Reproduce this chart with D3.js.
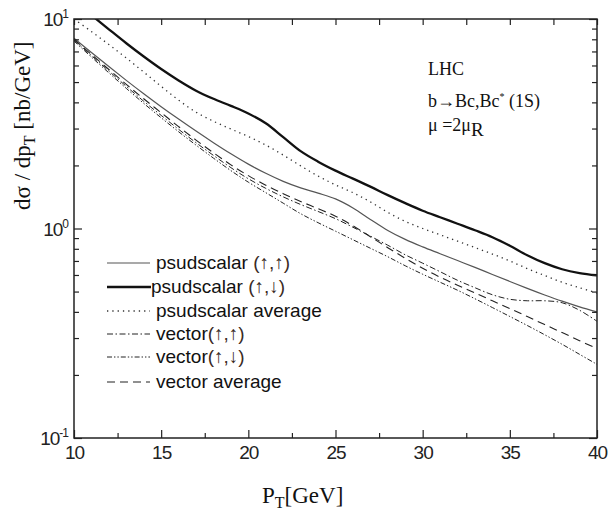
<!DOCTYPE html>
<html>
<head>
<meta charset="utf-8">
<script src="https://cdn.jsdelivr.net/npm/d3@7/dist/d3.min.js"></script>
<style>
  html, body { margin: 0; padding: 0; background: #fff; }
  svg { display: block; }
</style>
</head>
<body>
<svg id="chart" width="614" height="510"></svg>
<script>
// ---------------- data ----------------
const pT = [10,11,12,13,14,15,16,17,18,19,20,21,22,23,24,25,26,27,28,29,30,31,32,33,34,35,36,37,38,39,40];

const psUpUp = [8.09,6.92,5.93,5.095,4.397,3.815,3.329,2.917,2.568,2.273,2.029,1.834,1.679,1.563,1.476,1.385,1.254,1.105,0.979,0.887,0.817,0.758,0.703,0.652,0.6034,0.5589,0.518,0.4817,0.4498,0.4225,0.3996];
const psUpDown = [12.19,10.43,8.93,7.66,6.62,5.77,5.09,4.55,4.16,3.85,3.54,3.18,2.73,2.34,2.085,1.889,1.73,1.584,1.443,1.321,1.216,1.132,1.054,0.981,0.909,0.828,0.7455,0.683,0.639,0.613,0.598];
const psAverage = [10.0,8.71,7.55,6.51,5.58,4.77,4.10,3.59,3.25,2.985,2.749,2.503,2.242,1.991,1.780,1.615,1.483,1.340,1.194,1.081,1.0,0.933,0.870,0.811,0.7552,0.6995,0.644,0.5963,0.5538,0.5214,0.4918];
const vecUpUp = [7.94,6.69,5.644,4.77,4.05,3.467,2.975,2.568,2.233,1.952,1.728,1.555,1.416,1.302,1.206,1.114,1.014,0.919,0.832,0.749,0.683,0.622,0.566,0.5215,0.4828,0.4594,0.4519,0.4519,0.4421,0.4071,0.3607];
const vecUpDown = [7.85,6.58,5.534,4.665,3.956,3.377,2.897,2.50,2.167,1.889,1.664,1.483,1.321,1.177,1.066,0.971,0.884,0.805,0.733,0.664,0.605,0.554,0.5074,0.462,0.4194,0.3802,0.3444,0.311,0.280,0.2508,0.2247];
const vecAverage = [7.98,6.77,5.74,4.876,4.161,3.571,3.064,2.642,2.299,2.013,1.788,1.61,1.467,1.346,1.243,1.145,1.031,0.914,0.810,0.721,0.646,0.5853,0.536,0.4924,0.4519,0.4148,0.3799,0.3477,0.3185,0.2916,0.2671];

const xTickValues = [10,15,20,25,30,35,40];
const xMinorTicks = [12.5,17.5,22.5,27.5,32.5,37.5];
const yDecades = [0.1, 1, 10];
const yDecadeExp = ["-1", "0", "1"];
const yMinorTicks = [0.2,0.3,0.4,0.5,0.6,0.7,0.8,0.9,2,3,4,5,6,7,8,9];

const seriesNames = ["psudscalar", "psudscalar", "psudscalar average", "vector", "vector", "vector average"];
const seriesSuffix = [" (\u2191,\u2191)", " (\u2191,\u2193)", "", "(\u2191,\u2191)", "(\u2191,\u2193)", ""];
const seriesValues = [psUpUp, psUpDown, psAverage, vecUpUp, vecUpDown, vecAverage];

// styles (kept separate from data)
const styles = [
  {stroke: "#555", width: 1.2, dash: null},
  {stroke: "#111", width: 2.3, dash: null},
  {stroke: "#333", width: 1.3, dash: "1.3,4"},
  {stroke: "#222", width: 1.0, dash: "6,2.5,1.5,2.5"},
  {stroke: "#222", width: 1.0, dash: "5,2,1.4,2,1.4,2"},
  {stroke: "#222", width: 1.1, dash: "8,5"}
];

// ---------------- layout ----------------
const svg = d3.select("#chart");
const L = 74, R = 597, T = 19, B = 438;

const x = d3.scaleLinear().domain([10, 40]).range([L, R]);
const y = d3.scaleLog().domain([0.1, 10]).range([B, T]);

const sans = "'Liberation Sans', Arial, sans-serif";
const serif = "'Liberation Serif', 'Times New Roman', serif";

svg.append("defs").append("clipPath").attr("id", "plotclip")
  .append("rect").attr("x", L).attr("y", T).attr("width", R - L).attr("height", B - T);

// curves
const line = d3.line()
  .x((d, i) => x(pT[i]))
  .y(d => y(d))
  .curve(d3.curveCatmullRom.alpha(0.5));

const gCurves = svg.append("g").attr("clip-path", "url(#plotclip)");
seriesValues.forEach((vals, k) => {
  const st = styles[k];
  gCurves.append("path")
    .attr("d", line(vals))
    .attr("fill", "none")
    .attr("stroke", st.stroke)
    .attr("stroke-width", st.width)
    .attr("stroke-dasharray", st.dash)
    .attr("stroke-linejoin", "round");
});

// axes
const axColor = "#222";
function styleAxis(g) {
  g.select(".domain").remove();
  g.selectAll("line").attr("stroke", axColor).attr("stroke-width", 1.2);
}
svg.append("g").attr("transform", `translate(0,${B})`)
  .call(d3.axisBottom(x).tickValues(xTickValues).tickSize(-8).tickPadding(8).tickFormat(d3.format("d")))
  .call(styleAxis)
  .call(g => g.selectAll("text").attr("font-family", sans).attr("font-size", 19)
    .attr("letter-spacing", -1).attr("fill", "#222"));
svg.append("g").attr("transform", `translate(0,${B})`)
  .call(d3.axisBottom(x).tickValues(xMinorTicks).tickSize(-5).tickFormat(""))
  .call(styleAxis);
svg.append("g").attr("transform", `translate(0,${T})`)
  .call(d3.axisTop(x).tickValues(xTickValues.concat(xMinorTicks)).tickSize(-6).tickFormat(""))
  .call(styleAxis);
svg.append("g").attr("transform", `translate(${L},0)`)
  .call(d3.axisLeft(y).tickValues(yDecades).tickSize(-8).tickFormat(""))
  .call(styleAxis);
svg.append("g").attr("transform", `translate(${L},0)`)
  .call(d3.axisLeft(y).tickValues(yMinorTicks).tickSize(-5).tickFormat(""))
  .call(styleAxis);
svg.append("g").attr("transform", `translate(${R},0)`)
  .call(d3.axisRight(y).tickValues(yDecades).tickSize(-8).tickFormat(""))
  .call(styleAxis);
svg.append("g").attr("transform", `translate(${R},0)`)
  .call(d3.axisRight(y).tickValues(yMinorTicks).tickSize(-5).tickFormat(""))
  .call(styleAxis);

// frame
svg.append("rect").attr("x", L).attr("y", T).attr("width", R - L).attr("height", B - T)
  .attr("fill", "none").attr("stroke", axColor).attr("stroke-width", 1.5);

// y decade labels 10^n
yDecades.forEach((v, i) => {
  const t = svg.append("text")
    .attr("x", L - 6).attr("y", y(v) + 7)
    .attr("text-anchor", "end")
    .attr("font-family", sans).attr("font-size", 19).attr("letter-spacing", -1).attr("fill", "#222");
  t.append("tspan").text("10");
  t.append("tspan").attr("font-size", 12).attr("dy", -8).text(yDecadeExp[i]);
});

// axis titles
const xt = svg.append("text").attr("x", 262).attr("y", 503)
  .attr("font-family", serif).attr("font-size", 23).attr("fill", "#111");
xt.append("tspan").text("P");
xt.append("tspan").attr("font-size", 16).attr("dy", 5).text("T");
xt.append("tspan").attr("dy", -5).text("[GeV]");

const yt = svg.append("text")
  .attr("transform", "translate(30,210) rotate(-90)")
  .attr("font-family", serif).attr("font-size", 23).attr("fill", "#111");
yt.append("tspan").text("d\u03c3 / dp");
yt.append("tspan").attr("font-size", 16).attr("dy", 5).text("T");
yt.append("tspan").attr("dy", -5).text(" [nb/GeV]");

// annotation
const ann = svg.append("g").attr("font-family", serif).attr("font-size", 18).attr("fill", "#111");
ann.append("text").attr("x", 428).attr("y", 75).text("LHC");
const a2 = ann.append("text").attr("x", 428).attr("y", 107);
a2.append("tspan").text("b\u2192Bc,Bc");
a2.append("tspan").attr("font-size", 10).attr("dy", -7).text("*");
a2.append("tspan").attr("dy", 7).text(" (1S)");
const a3 = ann.append("text").attr("x", 428).attr("y", 131);
a3.append("tspan").text("\u03bc =2\u03bc");
a3.append("tspan").attr("dy", 5).attr("font-size", 19).text("R");

// legend
const legY = [263, 287, 311, 334, 357, 382];
const legTextX = [156, 151, 156, 156, 156, 156];
const lg = svg.append("g");
seriesNames.forEach((name, k) => {
  const st = styles[k];
  lg.append("line")
    .attr("x1", 107).attr("x2", k === 1 ? 151 : 150)
    .attr("y1", legY[k]).attr("y2", legY[k])
    .attr("stroke", st.stroke).attr("stroke-width", st.width)
    .attr("stroke-dasharray", st.dash);
  const t = lg.append("text")
    .attr("x", legTextX[k]).attr("y", legY[k] + 6)
    .attr("font-family", sans).attr("font-size", 19).attr("fill", "#111");
  t.append("tspan").text(name);
  if (seriesSuffix[k]) t.append("tspan").attr("fill", "#3a2a24").text(seriesSuffix[k]);
});
</script>
</body>
</html>
